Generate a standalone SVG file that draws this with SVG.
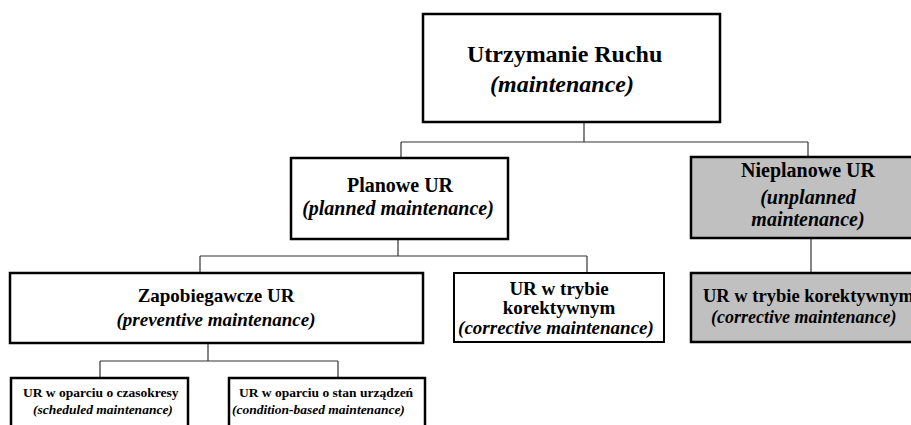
<svg xmlns="http://www.w3.org/2000/svg" width="911" height="425" viewBox="0 0 911 425">
<style>
  .box { fill: #ffffff; stroke: #000000; stroke-width: 2.5; }
  .gray { fill: #c0c0c0; stroke: #000000; stroke-width: 2.5; }
  text { font-family: 'Liberation Serif', 'DejaVu Serif', serif; font-weight: bold; fill: #000000; text-anchor: middle; }
  .i { font-style: italic; }
  .s { text-anchor: start; }
  .conn line { stroke: #333333; stroke-width: 1.2; }
</style>
<rect width="911" height="425" fill="#ffffff"/>
<g id="connectors" class="conn">
  <line x1="584" y1="122" x2="584" y2="142"/>
  <line x1="401" y1="142" x2="808" y2="142"/>
  <line x1="401" y1="142" x2="401" y2="158"/>
  <line x1="808" y1="142" x2="808" y2="157"/>
  <line x1="811" y1="238" x2="811" y2="273"/>
  <line x1="398" y1="239" x2="398" y2="256"/>
  <line x1="200" y1="256" x2="587" y2="256"/>
  <line x1="200" y1="256" x2="200" y2="273"/>
  <line x1="587" y1="256" x2="587" y2="273"/>
  <line x1="208" y1="343" x2="208" y2="361"/>
  <line x1="100" y1="361" x2="338" y2="361"/>
  <line x1="100" y1="361" x2="100" y2="378"/>
  <line x1="338" y1="361" x2="338" y2="378"/>
</g>
<g id="utrzymanie">
  <rect class="box" x="423" y="14" width="297" height="108"/>
  <text class="s" x="467" y="62" font-size="24">Utrzymanie Ruchu</text>
  <text class="i s" x="490" y="92" font-size="24">(maintenance)</text>
</g>
<g id="planowe">
  <rect class="box" x="291" y="158" width="217" height="81"/>
  <text x="400" y="192" font-size="20">Planowe UR</text>
  <text class="i" x="398" y="215" font-size="20">(planned maintenance)</text>
</g>
<g id="nieplanowe">
  <rect class="gray" x="691" y="157" width="235" height="81"/>
  <text x="808" y="177" font-size="20">Nieplanowe UR</text>
  <text class="i" x="808" y="204" font-size="20">(unplanned</text>
  <text class="i" x="808" y="226" font-size="20">maintenance)</text>
</g>
<g id="zapobiegawcze">
  <rect class="box" x="10" y="273" width="413" height="70"/>
  <text x="216" y="302" font-size="19">Zapobiegawcze UR</text>
  <text class="i" x="216" y="326" font-size="19">(preventive maintenance)</text>
</g>
<g id="korektywny-planowy">
  <rect class="box" x="454" y="273" width="210" height="69" style="stroke-width:2"/>
  <text x="559" y="295" font-size="19">UR w trybie</text>
  <text x="559" y="314" font-size="19">korektywnym</text>
  <text class="i" x="556" y="334" font-size="19">(corrective maintenance)</text>
</g>
<g id="korektywny-nieplanowy">
  <rect class="gray" x="691" y="273" width="235" height="69"/>
  <text class="s" x="703" y="302" font-size="18.5">UR w trybie korektywnym</text>
  <text class="i s" x="711" y="323" font-size="18">(corrective maintenance)</text>
</g>
<g id="czasokresy">
  <rect class="box" x="11" y="378" width="177" height="50"/>
  <text class="s" x="23" y="397" font-size="13.5">UR w oparciu o czasokresy</text>
  <text class="i s" x="33" y="414" font-size="13.5">(scheduled maintenance)</text>
</g>
<g id="stan">
  <rect class="box" x="229" y="378" width="196" height="50"/>
  <text class="s" x="239" y="397" font-size="13.5">UR w oparciu o stan urządzeń</text>
  <text class="i s" x="232" y="414" font-size="13.5">(condition-based maintenance)</text>
</g>
</svg>
